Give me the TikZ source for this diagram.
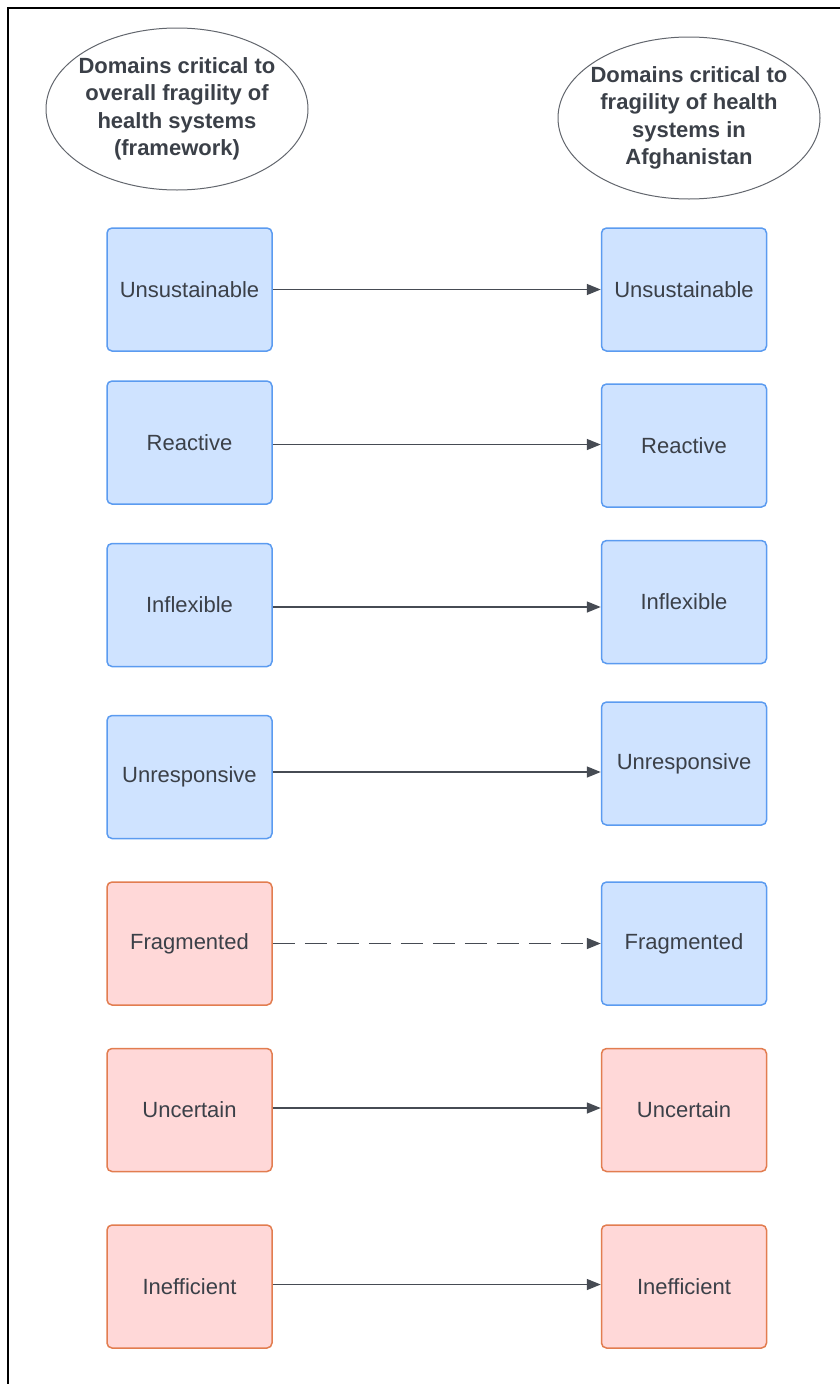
\documentclass[tikz,border=0pt]{standalone}
\usepackage{fontspec}
\setmainfont{Liberation Sans}
\usetikzlibrary{arrows.meta,shapes.geometric}

\definecolor{inkgray}{HTML}{3B4048}
\definecolor{bluefill}{HTML}{CFE3FF}
\definecolor{blueline}{HTML}{5B9BF0}
\definecolor{redfill}{HTML}{FFD8D8}
\definecolor{redline}{HTML}{E27D50}
\definecolor{linkgray}{HTML}{464B53}

\tikzstyle{heading}=[draw=inkgray!80,line width=1pt,ellipse,minimum width=262pt,minimum height=162pt,inner xsep=-10pt,inner ysep=4pt,align=center,text=inkgray,font=\fontsize{22}{27.5}\selectfont\bfseries]
\tikzstyle{domainbox}=[rounded corners=5pt,line width=1.5pt,minimum width=165pt,minimum height=123pt,inner sep=0pt,text=inkgray,font=\fontsize{22}{26}\selectfont]
\tikzstyle{bluebox}=[domainbox,draw=blueline,fill=bluefill]
\tikzstyle{redbox}=[domainbox,draw=redline,fill=redfill]
\tikzstyle{link}=[draw=linkgray,line width=1.5pt,-{Triangle[length=14pt,width=11pt]}]
\tikzstyle{dashlink}=[link,dash pattern=on 22pt off 10pt]

\begin{document}
\begin{tikzpicture}[x=1pt,y=-1pt]
    \useasboundingbox (0,0) rectangle (840,1384);
    % frame round the figure
    \draw[line width=2pt] (8,1384) -- (8,8) -- (840,8);
    % The two column headings
    \node[heading] (fwhead) at (177,109) {Domains critical to\\overall fragility of\\health systems\\(framework)};
    \node[heading] (afhead) at (689,118) {Domains critical to\\fragility of health\\systems in\\Afghanistan};
    % Framework domains (left) and Afghanistan domains (right)
    \foreach \pos/\name/\sty/\txt in {{(189.5,289.5)/fw1/bluebox/Unsustainable}, {(189.5,442.5)/fw2/bluebox/Reactive},
        {(189.5,605)/fw3/bluebox/Inflexible}, {(189.5,777)/fw4/bluebox/Unresponsive},
        {(189.5,943.5)/fw5/redbox/Fragmented}, {(189.5,1110)/fw6/redbox/Uncertain},
        {(189.5,1286.5)/fw7/redbox/Inefficient},
        {(684,289.5)/af1/bluebox/Unsustainable}, {(684,445.5)/af2/bluebox/Reactive},
        {(684,602)/af3/bluebox/Inflexible}, {(684,763.5)/af4/bluebox/Unresponsive},
        {(684,943.5)/af5/bluebox/Fragmented}, {(684,1110)/af6/redbox/Uncertain},
        {(684,1286.5)/af7/redbox/Inefficient}}
        \node[\sty] (\name) at \pos {\txt};
    % Connect each framework domain with its counterpart
    \foreach \source/\dest/\sty/\dy in {fw1/af1/link/0, fw2/af2/link/2, fw3/af3/link/2, fw4/af4/link/-5,
        fw5/af5/dashlink/0, fw6/af6/link/-2, fw7/af7/link/-2}
        \path[\sty] ([yshift=-\dy pt]\source.east) -- ([yshift=-\dy pt]\source.east -| \dest.west);
\end{tikzpicture}
\end{document}
